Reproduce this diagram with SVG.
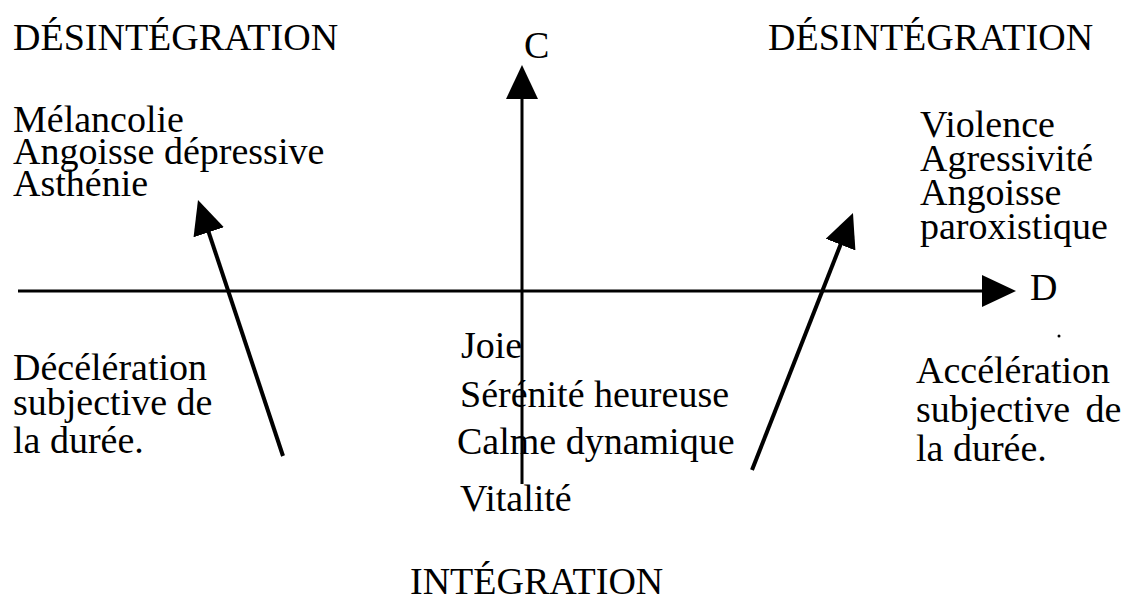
<svg xmlns="http://www.w3.org/2000/svg" width="1124" height="604" viewBox="0 0 1124 604">
<style>
text{font-family:"Liberation Serif","Times New Roman",serif;font-size:38px;fill:#000}
.ax{stroke:#000;stroke-width:3;fill:none}
.dg{stroke:#000;stroke-width:4;fill:none}
</style>
<defs>
<marker id="ah" viewBox="0 0 34 32" refX="1" refY="16" markerWidth="34" markerHeight="32" markerUnits="userSpaceOnUse" orient="auto">
<path d="M0,0 L34,16 L0,32 z" fill="#000"/>
</marker>
</defs>
<rect width="1124" height="604" fill="#fff"/>
<g id="connectors">
<line class="ax" x1="522" y1="484" x2="522" y2="98" marker-end="url(#ah)"/>
<line class="ax" x1="18" y1="291" x2="983" y2="291" marker-end="url(#ah)"/>
<line class="dg" x1="283" y1="456" x2="208.4" y2="231.3" marker-end="url(#ah)"/>
<line class="dg" x1="752" y1="470" x2="840.9" y2="243.7" marker-end="url(#ah)"/>
</g>
<g id="desint-left"><text x="13" y="50">DÉSINTÉGRATION</text></g>
<g id="label-c"><text x="524" y="58">C</text></g>
<g id="desint-right"><text x="768" y="50">DÉSINTÉGRATION</text></g>
<g id="left-states">
<text x="13" y="132">Mélancolie</text>
<text x="13" y="164">Angoisse dépressive</text>
<text x="13" y="196">Asthénie</text>
</g>
<g id="right-states">
<text x="920" y="137">Violence</text>
<text x="920" y="171">Agressivité</text>
<text x="920" y="205">Angoisse</text>
<text x="920" y="239">paroxistique</text>
</g>
<g id="label-d"><text x="1030" y="300">D</text></g>
<circle cx="1059" cy="336" r="1.5" fill="#000"/>
<g id="deceleration">
<text x="13" y="380">Décélération</text>
<text x="13" y="415">subjective de</text>
<text x="13" y="453">la durée.</text>
</g>
<g id="acceleration">
<text x="916" y="383">Accélération</text>
<text x="916" y="422" word-spacing="6">subjective de</text>
<text x="916" y="461">la durée.</text>
</g>
<g id="center-states">
<text x="461" y="358">Joie</text>
<text x="460" y="407">Sérénité heureuse</text>
<text x="457" y="454">Calme dynamique</text>
<text x="460" y="511">Vitalité</text>
</g>
<g id="integration"><text x="410" y="594">INTÉGRATION</text></g>
</svg>
